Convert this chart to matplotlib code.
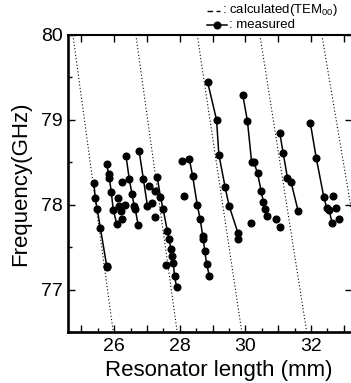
import matplotlib.pyplot as plt
from matplotlib.ticker import MultipleLocator, FuncFormatter
from matplotlib.lines import Line2D

plt.rcParams['font.family'] = ['Liberation Sans', 'DejaVu Sans']
plt.rcParams['mathtext.fontset'] = 'custom'
plt.rcParams['mathtext.rm'] = 'Liberation Sans'

# calculated TEM00 lines: length where each line meets f=80 and f=76.5
calc_freq = [80.0, 76.5]
calc_len_top = [24.74, 26.66, 28.53, 30.44, 32.33]
calc_len_bottom = [25.97, 27.92, 29.89, 31.87, 33.86]

# measured branches (connected points)
branch_len = [
    [25.38, 25.42, 25.48, 25.58, 25.77, 25.79],
    [25.77, 25.83, 25.85, 25.91, 25.97, 26.08],
    [26.36, 26.46, 26.54, 26.61, 26.64, 26.73],
    [26.76, 26.89, 27.01],
    [27.31, 27.41, 27.49, 27.62, 27.67, 27.73, 27.76, 27.80, 27.84, 27.90],
    [28.29, 28.39, 28.53, 28.62, 28.70, 28.72, 28.76, 28.82, 28.90],
    [28.85, 29.12, 29.19, 29.38, 29.50, 29.77, 29.78],
    [29.92, 30.06, 30.19, 30.26, 30.37, 30.48, 30.55, 30.60, 30.67],
    [31.05, 31.15, 31.28, 31.39, 31.61],
    [31.98, 32.16, 32.39, 32.48, 32.55, 32.64],
]
branch_freq = [
    [78.26, 78.08, 77.95, 77.72, 77.28, 77.26],
    [78.48, 78.36, 78.32, 78.15, 77.94, 77.77],
    [78.57, 78.30, 78.13, 77.98, 77.95, 77.76],
    [78.63, 78.30, 77.99],
    [78.33, 78.09, 77.95, 77.69, 77.59, 77.48, 77.39, 77.31, 77.16, 77.03],
    [78.54, 78.34, 78.00, 77.83, 77.63, 77.59, 77.45, 77.30, 77.16],
    [79.44, 79.00, 78.59, 78.21, 77.99, 77.67, 77.59],
    [79.29, 78.99, 78.50, 78.50, 78.37, 78.16, 78.03, 77.95, 77.87],
    [78.84, 78.61, 78.32, 78.27, 77.92],
    [78.96, 78.55, 78.09, 77.96, 77.94, 77.79],
]

# measured points not on a branch
single_len = [26.12, 26.15, 26.20, 26.34, 26.24, 26.25, 27.07, 27.15, 27.23, 27.23,
              27.58, 28.08, 28.13, 30.17, 30.93, 31.04, 32.66, 32.76, 32.86]
single_freq = [78.08, 77.98, 77.92, 78.00, 77.83, 78.27, 78.22, 78.02, 77.86, 78.16,
               77.29, 78.51, 78.10, 77.79, 77.83, 77.74, 78.10, 77.96, 77.83]

fig = plt.figure(figsize=(3.51, 3.83), dpi=100)
ax = fig.add_axes([0.1946, 0.1332, 0.8083, 0.7755])

for top, bot in zip(calc_len_top, calc_len_bottom):
    ax.plot([top, bot], calc_freq, color='black', linewidth=0.8,
            linestyle=(0, (1, 2.0)))

for L, f in zip(branch_len, branch_freq):
    ax.plot(L, f, color='black', linewidth=1.1, marker='o', markersize=4.8)

ax.plot(single_len, single_freq, linestyle='none', color='black',
        marker='o', markersize=4.8)

ax.set_xlim(24.6, 33.25)
ax.set_ylim(76.5, 80.0)

ax.xaxis.set_major_locator(MultipleLocator(1))
ax.xaxis.set_minor_locator(MultipleLocator(0.5))
ax.xaxis.set_major_formatter(FuncFormatter(lambda v, p: '%d' % v if round(v) % 2 == 0 else ''))
ax.yaxis.set_major_locator(MultipleLocator(1))
ax.yaxis.set_minor_locator(MultipleLocator(0.5))

ax.tick_params(which='both', direction='in', top=True, right=True, labelsize=14, width=1.0)
ax.tick_params(which='major', length=5, pad=4)
ax.tick_params(which='minor', length=3, top=False, right=False)

for side in ['left', 'bottom']:
    ax.spines[side].set_linewidth(1.9)
ax.spines['top'].set_linewidth(1.5)
ax.spines['right'].set_linewidth(1.5)

ax.set_xlabel('Resonator length (mm)', fontsize=16)
ax.set_ylabel('Frequency(GHz)', fontsize=16)
ax.xaxis.set_label_coords(0.53, -0.095)
ax.yaxis.set_label_coords(-0.13, 0.5)

# legend drawn in figure pixels
W, H = 351, 383
y1, y2 = 10.5, 25.0
fig.add_artist(Line2D([206.7 / W, 220 / W], [1 - y1 / H, 1 - y1 / H], color='black',
                      linewidth=1.0, linestyle=(0, (4, 2.5))))
fig.text(222 / W, 1 - y1 / H, ': calculated(TEM$_{\\mathregular{00}}$)', fontsize=9.5, va='center')
fig.add_artist(Line2D([206.7 / W, 226.7 / W], [1 - y2 / H, 1 - y2 / H], color='black',
                      linewidth=1.1))
fig.add_artist(Line2D([216.7 / W], [1 - y2 / H], color='black', marker='o',
                      markersize=4.8, linestyle='none'))
fig.text(229 / W, 1 - y2 / H, ': measured', fontsize=9.5, va='center')

fig.savefig('out.png', dpi=100)
